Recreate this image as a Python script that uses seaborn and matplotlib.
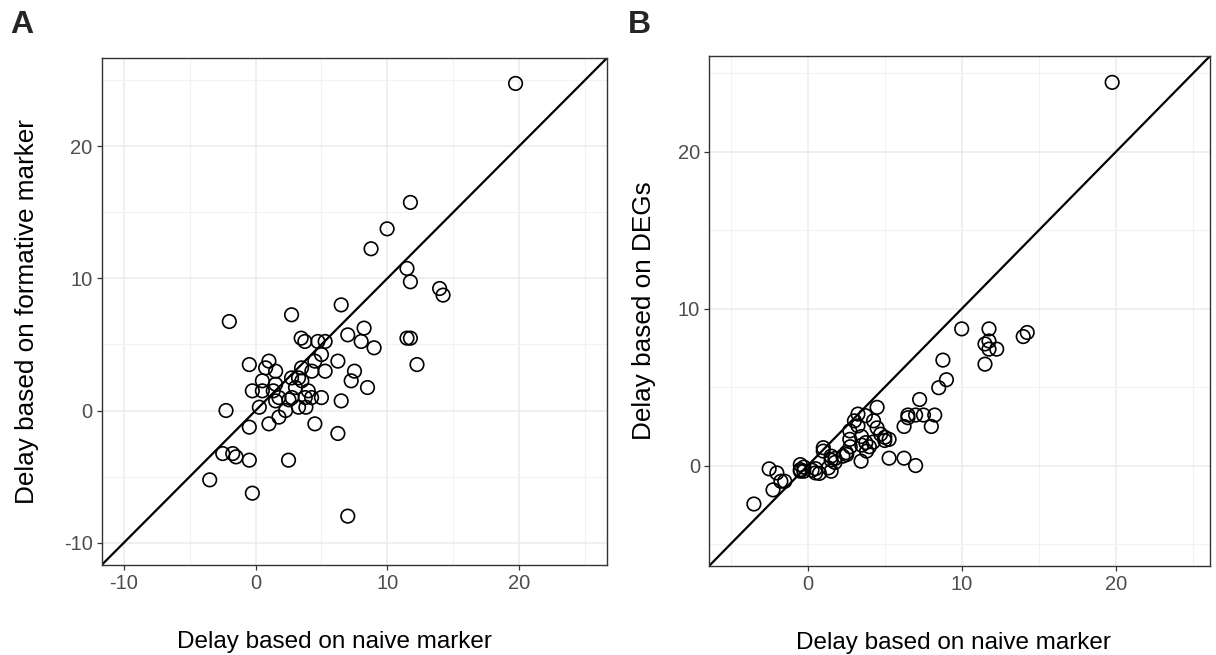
import matplotlib
matplotlib.use("Agg")
import matplotlib.pyplot as plt
import seaborn as sns
import pandas as pd
from matplotlib.ticker import MultipleLocator

# Shared x: delay based on naive marker
naive_delay = [-3.49, -2.50, -2.25, -2.00, -1.74, -1.49, -0.48, -0.48, -0.48, -0.25,
               -0.25, 0.28, 0.51, 0.51, 0.76, 1.01, 1.01, 1.34, 1.52, 1.52,
               1.52, 1.77, 1.77, 2.28, 2.50, 2.53, 2.73, 2.73, 2.76, 3.03,
               3.26, 3.26, 3.46, 3.49, 3.51, 3.74, 3.77, 3.82, 4.00, 4.25,
               4.27, 4.50, 4.50, 4.73, 5.00, 5.00, 5.28, 5.28, 6.25, 6.25,
               6.50, 6.50, 7.00, 7.00, 7.26, 7.51, 8.02, 8.24, 8.50, 8.77,
               9.00, 9.99, 11.50, 11.50, 11.76, 11.76, 11.76, 12.26, 13.98, 14.24,
               19.75]

# Panel A y: delay based on formative marker
formative_delay = [-5.25, -3.26, 0.00, 6.74, -3.26, -3.51, 3.48, -1.26, -3.76, 1.49,
                   -6.26, 0.25, 2.25, 1.49, 3.23, 3.74, -1.01, 1.49, 2.98, 1.99,
                   0.73, 0.98, -0.50, 0.00, -3.76, 0.81, 7.25, 2.47, 0.98, 1.74,
                   2.47, 0.25, 5.48, 3.23, 2.25, 5.23, 0.98, 0.25, 1.49, 0.98,
                   2.98, 3.74, -1.01, 5.23, 4.24, 0.98, 5.23, 2.98, 3.74, -1.74,
                   8.00, 0.73, 5.73, -8.00, 2.25, 2.98, 5.23, 6.24, 1.74, 12.25,
                   4.75, 13.76, 10.76, 5.48, 15.76, 9.75, 5.48, 3.48, 9.24, 8.74,
                   24.77]

# Panel B y: delay based on DEGs
deg_delay = [-2.45, -0.21, -1.55, -0.47, -1.00, -1.00, -0.26, 0.06, -0.36, -0.36,
             -0.10, -0.30, -0.20, -0.47, -0.50, 1.14, 0.92, -0.15, 0.60, -0.36,
             0.35, 0.45, 0.20, 0.60, 0.82, 0.70, 2.21, 1.67, 1.20, 2.85,
             3.28, 2.53, 0.28, 1.85, 1.30, 3.18, 1.46, 0.92, 1.20, 1.50,
             2.85, 3.71, 2.40, 2.00, 1.80, 1.60, 0.47, 1.67, 2.49, 0.47,
             3.22, 3.05, 3.22, 0.00, 4.21, 3.22, 2.49, 3.22, 4.96, 6.72,
             5.47, 8.71, 7.75, 6.46, 8.71, 7.94, 7.42, 7.42, 8.22, 8.48,
             24.42]

panel_labels = ["A", "B"]
x_label = "Delay based on naive marker"
y_labels = ["Delay based on formative marker", "Delay based on DEGs"]
limits = [(-11.7, 26.7), (-6.4, 26.1)]
ticks = [[-10, 0, 10, 20], [0, 10, 20]]

df = pd.DataFrame({"naive": naive_delay, "formative": formative_delay, "degs": deg_delay})

sns.set_theme(style="white")
plt.rcParams["font.family"] = ["Liberation Sans", "DejaVu Sans"]
plt.rcParams["axes.unicode_minus"] = False

fig = plt.figure(figsize=(12.16, 6.55), dpi=100)
axA = fig.add_axes([0.0836, 0.1374, 0.4156, 0.7741])
axB = fig.add_axes([0.5831, 0.1359, 0.4120, 0.7786])

xlabel_pos = [0.46, 0.487]
ylabel_pad = [18, 16]

for ax, ycol, ylab, lim, tk, xpos, ypad in zip([axA, axB], ["formative", "degs"], y_labels,
                                               limits, ticks, xlabel_pos, ylabel_pad):
    ax.set_facecolor("white")
    ax.set_xlim(lim)
    ax.set_ylim(lim)
    ax.xaxis.set_minor_locator(MultipleLocator(5))
    ax.yaxis.set_minor_locator(MultipleLocator(5))
    ax.set_xticks(tk)
    ax.set_yticks(tk)
    ax.grid(True, which="major", color="#EBEBEB", linewidth=1.1, zorder=0)
    ax.grid(True, which="minor", color="#F2F2F2", linewidth=0.8, zorder=0)
    ax.set_axisbelow(True)
    ax.axline((0, 0), slope=1, color="black", linewidth=1.6, zorder=2)
    sns.scatterplot(data=df, x="naive", y=ycol, ax=ax, s=95, marker="o",
                    facecolor="none", edgecolor="black", linewidth=1.2, zorder=3)
    for sp in ax.spines.values():
        sp.set_color("#333333")
        sp.set_linewidth(1.0)
    ax.tick_params(axis="both", which="major", length=3.5, width=0.9, color="#333333",
                   labelsize=14.5, labelcolor="#4D4D4D", direction="out",
                   bottom=True, left=True, pad=3)
    ax.tick_params(axis="both", which="minor", length=0)
    ax.set_xlabel(x_label, fontsize=17.5, color="black", labelpad=27)
    ax.xaxis.label.set_x(xpos)
    ax.set_ylabel(ylab, fontsize=18.8, color="black", labelpad=ypad)

fig.text(0.008, 0.985, "A", fontsize=23, fontweight="bold", va="top", ha="left")
fig.text(0.516, 0.985, "B", fontsize=23, fontweight="bold", va="top", ha="left")

fig.savefig("out.png", dpi=100)
